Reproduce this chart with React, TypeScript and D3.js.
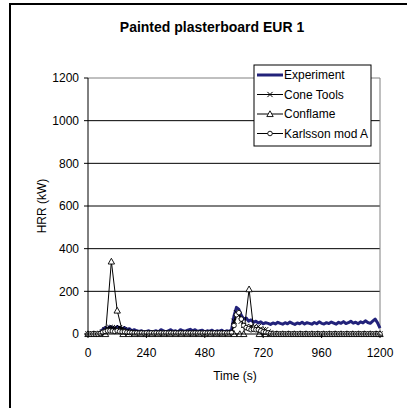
import React from "react";
import * as d3 from "d3";

const title = "Painted plasterboard EUR 1";
const xTicks = [0, 240, 480, 720, 960, 1200];
const yTicks = [0, 200, 400, 600, 800, 1000, 1200];

// Experiment, every 10 s from 0 to 1200
const expT = [0,10,20,30,40,50,60,70,80,90,100,110,120,130,140,150,160,170,180,190,200,210,220,230,240,250,260,270,280,290,300,310,320,330,340,350,360,370,380,390,400,410,420,430,440,450,460,470,480,490,500,510,520,530,540,550,560,570,580,590,600,610,620,630,640,650,660,670,680,690,700,710,720,730,740,750,760,770,780,790,800,810,820,830,840,850,860,870,880,890,900,910,920,930,940,950,960,970,980,990,1000,1010,1020,1030,1040,1050,1060,1070,1080,1090,1100,1110,1120,1130,1140,1150,1160,1170,1180,1190,1200];
const expV = [0,0,0,0,0,5,20,30,25,35,30,25,35,30,25,30,20,25,15,20,15,12,15,10,12,15,10,12,15,10,20,15,10,15,20,12,15,10,20,15,12,18,22,15,20,12,15,18,10,15,12,18,10,15,12,18,10,15,12,20,85,125,115,88,70,75,60,66,55,60,52,57,48,53,50,45,52,47,55,50,46,53,48,56,50,45,52,48,55,47,53,50,46,54,48,57,50,47,53,49,56,51,46,55,50,58,49,53,60,51,55,48,57,52,62,54,50,60,70,52,28];

// Cone Tools, every 10 s
const coneV = [0,0,0,0,0,3,10,20,25,30,30,28,25,30,25,20,15,10,8,6,5,7,4,6,5,4,6,5,4,6,5,4,6,5,4,6,5,4,6,5,4,6,5,4,6,5,4,6,5,4,6,5,4,6,5,4,6,5,4,6,60,100,90,60,40,35,30,35,30,25,35,25,20,20,10,5,0,0,0,0,0,0,0,0,0,0,0,0,0,0,0,0,0,0,0,0,0,0,0,0,0,0,0,0,0,0,0,0,0,0,0,0,0,0,0,0,0,0,0,0,0];

// Karlsson mod A, every 10 s
const karlV = [0,0,0,0,0,2,8,12,15,15,14,12,15,12,10,10,8,7,6,5,5,4,5,4,5,4,5,4,5,4,5,4,5,4,5,4,5,4,5,4,5,4,5,4,5,4,5,4,5,4,5,4,5,4,5,4,5,4,5,6,40,90,100,70,40,30,25,20,22,20,20,15,10,8,5,2,0,0,0,0,0,0,0,0,0,0,0,0,0,0,0,0,0,0,0,0,0,0,0,0,0,0,0,0,0,0,0,0,0,0,0,0,0,0,0,0,0,0,0,0,0];

// Conflame
const flameT = [0,24,48,72,96,120,144,168,192,216,240,264,288,312,336,360,384,408,432,456,480,504,528,552,576,600,624,640,662,680,704,728,752,776,800,824,848,872,896,920,944,968,992,1016,1040,1064,1088,1112,1136,1160,1184,1200];
const flameV = [0,0,0,0,340,110,0,0,0,0,0,0,0,0,0,0,0,0,0,0,0,0,0,0,0,0,0,0,210,30,0,0,0,0,0,0,0,0,0,0,0,0,0,0,0,0,0,0,0,0,0,0];

const legendNames = ["Experiment", "Cone Tools", "Conflame", "Karlsson mod A"];

const font = "'Liberation Sans', Arial, sans-serif";

function Marker({ kind, x, y }: { kind: string; x: number; y: number }) {
  if (kind === "x") {
    const s = 2.6;
    return (
      <path d={`M${x - s},${y - s}L${x + s},${y + s}M${x - s},${y + s}L${x + s},${y - s}`} stroke="#000" strokeWidth={1} fill="none" />
    );
  }
  if (kind === "tri") {
    const s = 3.2;
    return (
      <path d={`M${x},${y - s}L${x + s},${y + s * 0.8}L${x - s},${y + s * 0.8}Z`} stroke="#000" strokeWidth={0.9} fill="#fff" />
    );
  }
  return <circle cx={x} cy={y} r={2.3} stroke="#000" strokeWidth={0.9} fill="#fff" />;
}

export default function App() {
  const W = 407, H = 408;
  const x = d3.scaleLinear().domain([0, 1200]).range([88, 380]);
  const y = d3.scaleLinear().domain([0, 1200]).range([334, 78]);
  const line = d3.line<[number, number]>().x((d) => x(d[0])).y((d) => y(d[1]));

  const expPts = expT.map((t, i) => [t, expV[i]] as [number, number]);
  const conePts = expT.map((t, i) => [t, coneV[i]] as [number, number]);
  const karlPts = expT.map((t, i) => [t, karlV[i]] as [number, number]);
  const flamePts = flameT.map((t, i) => [t, flameV[i]] as [number, number]);

  const series = [
    { pts: conePts, kind: "x" },
    { pts: flamePts, kind: "tri" },
    { pts: karlPts, kind: "o" },
  ];

  const lx = 254, ly = 65, lw = 117, lh = 81;

  return (
    <svg width={W} height={H} style={{ display: "block", position: "absolute", left: 0, top: 0 }} fontFamily={font}>
      <rect x={0} y={0} width={W} height={H} fill="#fff" />
      <rect x={10} y={4} width={440} height={440} fill="none" stroke="#000" strokeWidth={2} />
      <text x={212} y={32} textAnchor="middle" fontSize={14} fontWeight="bold">{title}</text>

      {/* gridlines */}
      {yTicks.filter((v) => v > 0 && v < 1200).map((v) => (
        <line key={v} x1={88} x2={380} y1={y(v)} y2={y(v)} stroke="#000" strokeWidth={1} />
      ))}
      {/* plot border top/right gray */}
      <line x1={88} x2={380} y1={y(1200)} y2={y(1200)} stroke="#808080" strokeWidth={1} />
      <line x1={380} x2={380} y1={y(1200)} y2={y(0)} stroke="#808080" strokeWidth={1} />

      {/* series */}
      <path d={line(expPts) || ""} fill="none" stroke="#22227a" strokeWidth={3} strokeLinejoin="round" />
      {series.map((s, si) => (
        <g key={si}>
          <path d={line(s.pts) || ""} fill="none" stroke="#000" strokeWidth={1} />
          {s.pts.map((p, i) => (
            <Marker key={i} kind={s.kind} x={x(p[0])} y={y(p[1])} />
          ))}
        </g>
      ))}

      {/* axes */}
      <line x1={88} x2={88} y1={y(1200)} y2={y(0)} stroke="#000" strokeWidth={1} />
      <line x1={88} x2={380} y1={y(0)} y2={y(0)} stroke="#000" strokeWidth={1} />
      {yTicks.map((v) => (
        <g key={v}>
          <line x1={84} x2={88} y1={y(v)} y2={y(v)} stroke="#000" />
          <text x={79} y={y(v)} dy="0.35em" textAnchor="end" fontSize={12}>{v}</text>
        </g>
      ))}
      {xTicks.map((v) => (
        <g key={v}>
          <line x1={x(v)} x2={x(v)} y1={y(0)} y2={y(0) + 4} stroke="#000" />
          <text x={x(v)} y={357} textAnchor="middle" fontSize={12}>{v}</text>
        </g>
      ))}
      <text x={235} y={380} textAnchor="middle" fontSize={12}>Time (s)</text>
      <text transform={`translate(46,206) rotate(-90)`} textAnchor="middle" fontSize={12}>HRR (kW)</text>

      {/* legend */}
      <rect x={lx} y={ly} width={lw} height={lh} fill="#fff" stroke="#000" strokeWidth={1} />
      {legendNames.map((n, i) => {
        const yy = ly + 10 + i * 19.5;
        return (
          <g key={n}>
            {i === 0 ? (
              <line x1={lx + 3} x2={lx + 29} y1={yy} y2={yy} stroke="#22227a" strokeWidth={3} />
            ) : (
              <>
                <line x1={lx + 3} x2={lx + 29} y1={yy} y2={yy} stroke="#000" strokeWidth={1} />
                <Marker kind={series[i - 1].kind} x={lx + 16} y={yy} />
              </>
            )}
            <text x={lx + 30} y={yy} dy="0.35em" fontSize={12}>{n}</text>
          </g>
        );
      })}
    </svg>
  );
}
